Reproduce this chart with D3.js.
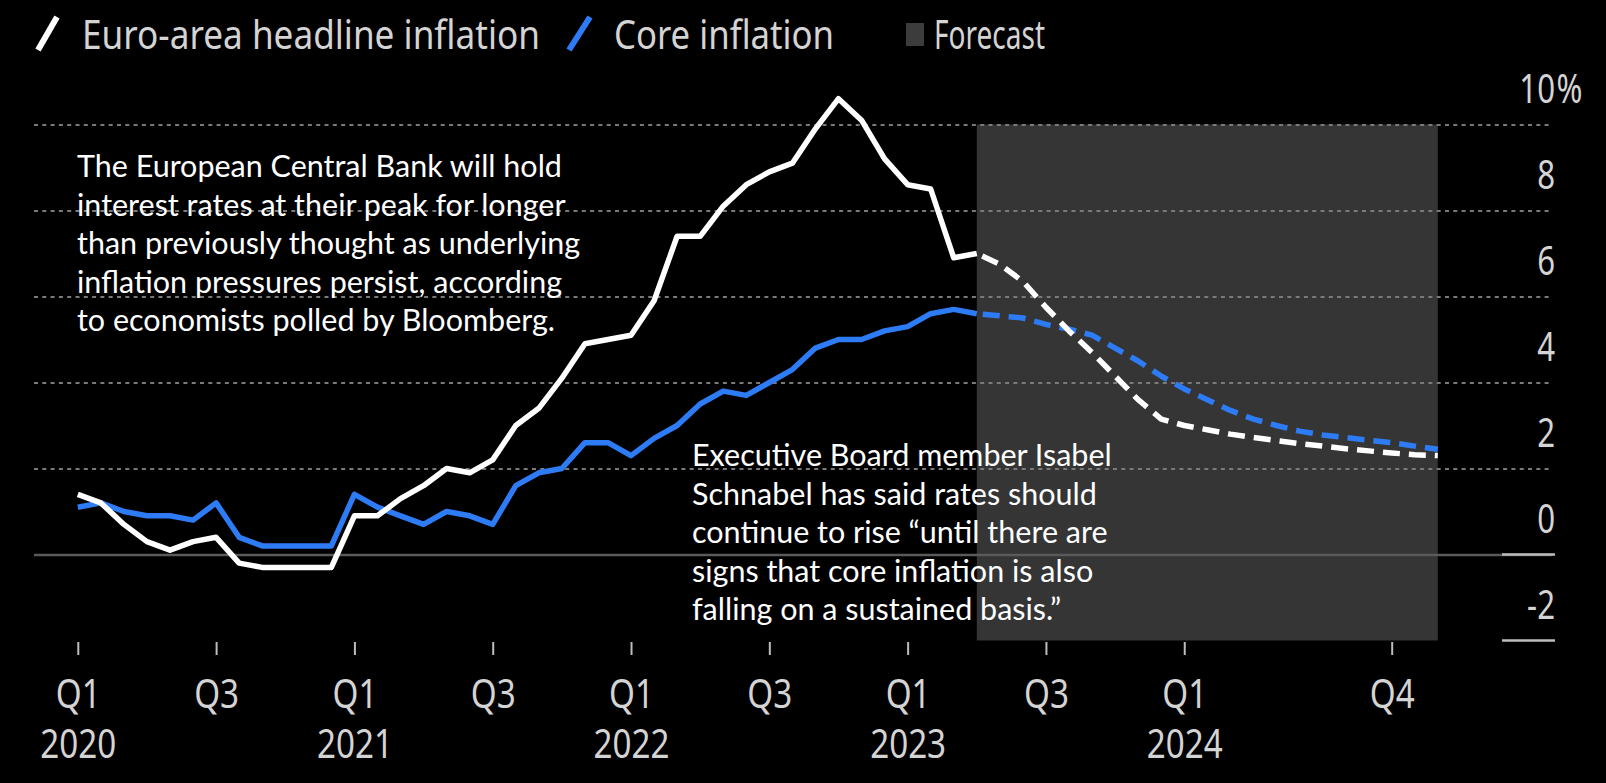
<!DOCTYPE html>
<html>
<head>
<meta charset="utf-8">
<script src="https://cdn.jsdelivr.net/npm/d3@7"></script>
<style>
  body { margin: 0; background: #000; }
  #chart svg { display: block; }
</style>
</head>
<body>
<div id="chart"></div>
<script>
// monthly y/y inflation, %
const actualMonths = d3.timeMonths(new Date(2020, 0, 1), new Date(2023, 4, 1)); // Jan 2020 .. Apr 2023
const headline = [1.4, 1.2, 0.7, 0.3, 0.1, 0.3, 0.4, -0.2, -0.3, -0.3, -0.3, -0.3,
                  0.9, 0.9, 1.3, 1.6, 2.0, 1.9, 2.2, 3.0, 3.4, 4.1, 4.9, 5.0,
                  5.1, 5.9, 7.4, 7.4, 8.1, 8.6, 8.9, 9.1, 9.9, 10.6, 10.1, 9.2,
                  8.6, 8.5, 6.9, 7.0];
const core = [1.1, 1.2, 1.0, 0.9, 0.9, 0.8, 1.2, 0.4, 0.2, 0.2, 0.2, 0.2,
              1.4, 1.1, 0.9, 0.7, 1.0, 0.9, 0.7, 1.6, 1.9, 2.0, 2.6, 2.6,
              2.3, 2.7, 3.0, 3.5, 3.8, 3.7, 4.0, 4.3, 4.8, 5.0, 5.0, 5.2,
              5.3, 5.6, 5.7, 5.6];

// economists' forecast path
const forecastMonths = d3.timeMonths(new Date(2023, 3, 1), new Date(2025, 0, 1)); // Apr 2023 .. Dec 2024
const headlineForecast = [7.0, 6.75, 6.35, 5.75, 5.2, 4.7, 4.15, 3.6, 3.15, 3.0, 2.9, 2.8,
                          2.72, 2.65, 2.58, 2.52, 2.46, 2.41, 2.36, 2.32, 2.3];
const coreForecast = [5.6, 5.55, 5.5, 5.35, 5.24, 5.1, 4.8, 4.5, 4.15, 3.85, 3.6, 3.35,
                      3.15, 3.0, 2.87, 2.78, 2.72, 2.66, 2.6, 2.52, 2.45];

const xTicks = [new Date(2020, 0, 1), new Date(2020, 6, 1), new Date(2021, 0, 1), new Date(2021, 6, 1),
                new Date(2022, 0, 1), new Date(2022, 6, 1), new Date(2023, 0, 1), new Date(2023, 6, 1),
                new Date(2024, 0, 1), new Date(2024, 9, 1)];
const quarterLabels = ["Q1", "Q3", "Q1", "Q3", "Q1", "Q3", "Q1", "Q3", "Q1", "Q4"];
const yearLabels = ["2020", "", "2021", "", "2022", "", "2023", "", "2024", ""];
const yTicks = [-2, 0, 2, 4, 6, 8, 10];

const legendItems = ["Euro-area headline inflation", "Core inflation", "Forecast"];
const note1 = ["The European Central Bank will hold",
               "interest rates at their peak for longer",
               "than previously thought as underlying",
               "inflation pressures persist, according",
               "to economists polled by Bloomberg."];
const note2 = ["Executive Board member Isabel",
               "Schnabel has said rates should",
               "continue to rise \u201cuntil there are",
               "signs that core inflation is also",
               "falling on a sustained basis.\u201d"];

const width = 1606, height = 783;
const white = "#ffffff", blue = "#2d7cf6", labelGrey = "#d4d4d4";
const font = "'Noto Sans', sans-serif";
// layout for the legend row (x start, rendered width)
const legendX = [82, 614, 934];
const legendW = [458, 220, 111];

const t0 = new Date(2020, 0, 1);
const mIdx = d => d3.timeMonth.count(t0, d);

const x = d3.scaleLinear().domain([0, 59]).range([77.8, 1437.8]);
const y = d3.scaleLinear().domain([-2, 10]).range([640.5, 124.5]);

const svg = d3.select("#chart").append("svg")
    .attr("width", width)
    .attr("height", height)
    .style("background", "#000");

// forecast shading
svg.append("rect")
    .attr("x", x(mIdx(forecastMonths[0])))
    .attr("y", y(10))
    .attr("width", x(mIdx(forecastMonths[forecastMonths.length - 1])) - x(mIdx(forecastMonths[0])))
    .attr("height", y(-2) - y(10))
    .attr("fill", "#353535");

// gridlines
const gridLeft = 34, gridRight = 1552;
svg.append("g")
    .attr("transform", `translate(${gridLeft},0)`)
    .call(d3.axisRight(y).tickValues(yTicks).tickSize(gridRight - gridLeft).tickFormat(""))
    .call(g => g.select(".domain").remove())
    .call(g => g.selectAll(".tick line")
        .attr("stroke", d => d === 0 ? "#5a5a5a" : "#7a7a7a")
        .attr("stroke-width", d => d === 0 ? 2.5 : 2.2)
        .attr("stroke-dasharray", d => d === 0 ? null : "4 4.3")
        .attr("display", d => d === -2 ? "none" : null));

// right-hand axis: short solid marks at 0 and -2, labels sit above their line
const yAxisG = svg.append("g");
yAxisG.selectAll("line")
    .data(yTicks.filter(d => d <= 0))
    .join("line")
    .attr("x1", 1502).attr("x2", 1555)
    .attr("y1", d => y(d)).attr("y2", d => y(d))
    .attr("stroke", "#bdbdbd")
    .attr("stroke-width", 2.5);

const yLab = yAxisG.selectAll("g.ylab")
    .data(yTicks)
    .join("g")
    .attr("class", "ylab")
    .attr("transform", d => `translate(1555,${y(d) - 22}) scale(0.78,1)`);
yLab.append("text")
    .attr("text-anchor", "end")
    .attr("font-family", font)
    .attr("font-size", 40)
    .attr("fill", labelGrey)
    .text(d => d);
yLab.filter(d => d === 10).append("text")
    .attr("x", 2)
    .attr("font-family", font)
    .attr("font-size", 40)
    .attr("fill", labelGrey)
    .text("%");

// bottom axis
const xAxis = d3.axisBottom(x)
    .tickValues(xTicks.map(mIdx))
    .tickSize(13)
    .tickFormat((d, i) => quarterLabels[i]);

svg.append("g")
    .attr("transform", "translate(0,642)")
    .call(xAxis)
    .call(g => g.select(".domain").remove())
    .call(g => g.selectAll(".tick line").attr("stroke", "#bdbdbd").attr("stroke-width", 2))
    .call(g => g.selectAll(".tick text")
        .attr("y", 66)
        .attr("dy", null)
        .attr("transform", "scale(0.83,1)")
        .attr("font-family", font)
        .attr("font-size", 40)
        .attr("fill", labelGrey)
        .each(function (d, i) {
            d3.select(this).append("tspan")
                .attr("x", 0)
                .attr("y", 116)
                .text(yearLabels[i]);
        }));

// lines
const line = d3.line()
    .x(d => x(d[0]))
    .y(d => y(d[1]));

const series = [
    { name: "core", color: blue, actual: core, forecast: coreForecast },
    { name: "headline", color: white, actual: headline, forecast: headlineForecast }
];

series.forEach(s => {
    const act = actualMonths.map((m, i) => [mIdx(m), s.actual[i]]);
    const fc = forecastMonths.map((m, i) => [mIdx(m), s.forecast[i]]);

    svg.append("path")
        .datum(act)
        .attr("d", line)
        .attr("fill", "none")
        .attr("stroke", s.color)
        .attr("stroke-width", 5.5)
        .attr("stroke-linejoin", "round");

    svg.append("path")
        .datum(fc)
        .attr("d", line)
        .attr("fill", "none")
        .attr("stroke", s.color)
        .attr("stroke-width", 5.5)
        .attr("stroke-linejoin", "round")
        .attr("stroke-dasharray", "17 9")
        .attr("stroke-dashoffset", -6);
});

// legend
const legend = svg.append("g");
legend.append("line")
    .attr("x1", 38).attr("y1", 50).attr("x2", 57).attr("y2", 17)
    .attr("stroke", white).attr("stroke-width", 6);
legend.append("line")
    .attr("x1", 569).attr("y1", 50).attr("x2", 590).attr("y2", 17)
    .attr("stroke", blue).attr("stroke-width", 6);
legend.append("rect")
    .attr("x", 906).attr("y", 23).attr("width", 18).attr("height", 23)
    .attr("fill", "#3c3c3c");
legend.selectAll("text")
    .data(legendItems)
    .join("text")
    .attr("x", (d, i) => legendX[i])
    .attr("y", 49)
    .attr("textLength", (d, i) => legendW[i])
    .attr("lengthAdjust", "spacingAndGlyphs")
    .attr("font-family", font)
    .attr("font-size", 40)
    .attr("fill", labelGrey)
    .text(d => d);

// annotations
function note(lines, x0, y0) {
    svg.append("text")
        .attr("font-family", "Lato, sans-serif")
        .attr("font-size", 30.5)
        .attr("fill", "#fff")
        .selectAll("tspan")
        .data(lines)
        .join("tspan")
        .attr("x", x0)
        .attr("y", (d, i) => y0 + i * 38.5)
        .text(d => d);
}
note(note1, 77, 177);
note(note2, 692, 466);
</script>
</body>
</html>
